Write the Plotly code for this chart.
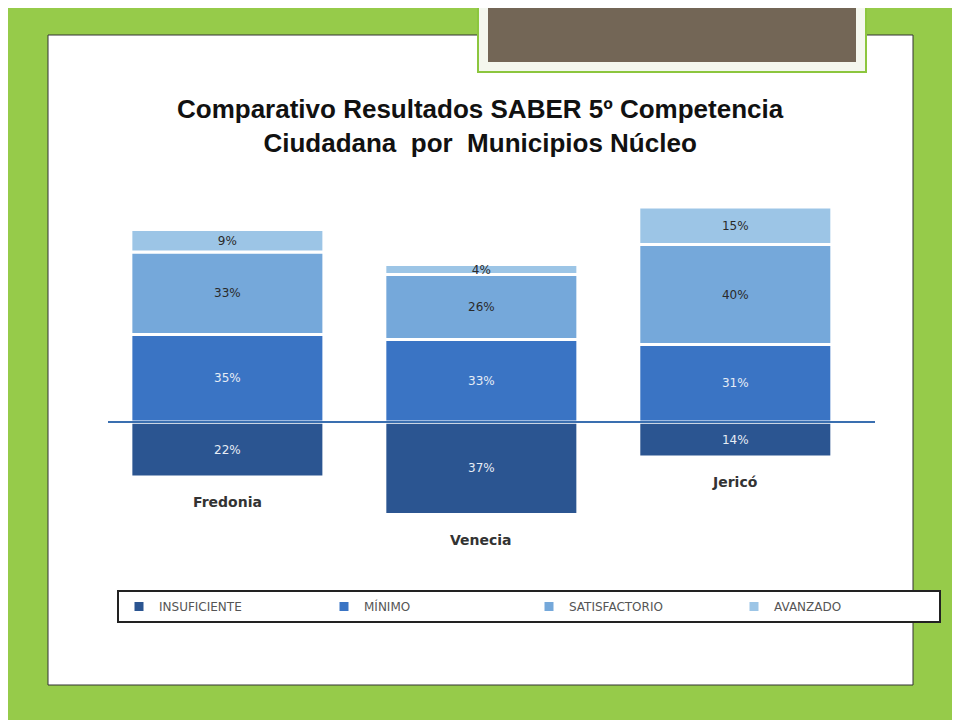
import plotly.graph_objects as go

# Datos
municipios = ["Fredonia", "Venecia", "Jericó"]
insuficiente = [22, 37, 14]
minimo = [35, 33, 31]
satisfactorio = [33, 26, 40]
avanzado = [9, 4, 15]

niveles = ["INSUFICIENTE", "MÍNIMO", "SATISFACTORIO", "AVANZADO"]
colores = ["#2b5591", "#3a74c4", "#75a8da", "#9cc5e6"]
texto_col = ["#e6ecf5", "#e6ecf5", "#2a2a2a", "#2a2a2a"]

D = 8  # desplazamiento del margen de la página


def py(p):
    return 1 - (p - D) / 720


def px(p):
    return (p - D) / 960


fig = go.Figure()
series = [[-v for v in insuficiente], minimo, satisfactorio, avanzado]
etiquetas = [insuficiente, minimo, satisfactorio, avanzado]
for nombre, vals, lab, col, tc in zip(niveles, series, etiquetas, colores, texto_col):
    fig.add_trace(go.Bar(
        x=municipios, y=vals, name=nombre,
        marker=dict(color=col, line=dict(color="white", width=3)),
        text=[f"{v}%" for v in lab], textposition="inside", insidetextanchor="middle",
        constraintext="none",
        textfont=dict(color=tc, size=12, family="DejaVu Sans"),
        width=0.76,
    ))

# Etiquetas de municipios debajo de cada barra
for m, v in zip(municipios, insuficiente):
    fig.add_annotation(x=m, y=-v - 10, text=f"<b>{m}</b>", showarrow=False,
                       font=dict(size=14, color="#333", family="DejaVu Sans"), yanchor="middle")

fig.update_layout(
    width=960, height=720, barmode="relative",
    margin=dict(l=0, r=0, t=0, b=0),
    paper_bgcolor="#96cb4a", plot_bgcolor="rgba(0,0,0,0)",
    showlegend=True,
    legend=dict(orientation="h", x=px(117), y=py(590), xanchor="left", yanchor="top",
                bordercolor="#222", borderwidth=2, bgcolor="white",
                entrywidth=160, entrywidthmode="pixels",
                font=dict(size=12, color="#555", family="DejaVu Sans"),
                traceorder="normal"),
    xaxis=dict(domain=[px(108), px(875)], range=[-0.47, 2.55], showticklabels=False,
               showgrid=False, zeroline=False),
    yaxis=dict(domain=[py(560), py(200)], range=[-55.2, 88.8], visible=False),
    shapes=[
        dict(type="rect", xref="paper", yref="paper", x0=px(48), x1=px(913),
             y0=py(685), y1=py(35), fillcolor="white", line=dict(color="#333", width=1), layer="below"),
        dict(type="rect", xref="paper", yref="paper", x0=px(478), x1=px(866),
             y0=py(72), y1=1.02, fillcolor="#f4f7ee", line=dict(color="#8cc63e", width=2), layer="below"),
        dict(type="rect", xref="paper", yref="paper", x0=px(488), x1=px(856),
             y0=py(62), y1=1.02, fillcolor="#736656", line=dict(width=0), layer="below"),
        dict(type="line", xref="paper", yref="y", x0=px(108), x1=px(875), y0=0, y1=0,
             line=dict(color="#3a6fb0", width=2)),
    ],
    annotations=fig.layout.annotations + (
        dict(xref="paper", yref="paper", x=px(480), y=py(92), yanchor="top", showarrow=False,
             text="<b>Comparativo Resultados SABER 5º Competencia<br>Ciudadana  por  Municipios Núcleo</b>",
             font=dict(size=26, color="#111", family="Liberation Sans")),
    ),
)

fig.write_html("out.html")
